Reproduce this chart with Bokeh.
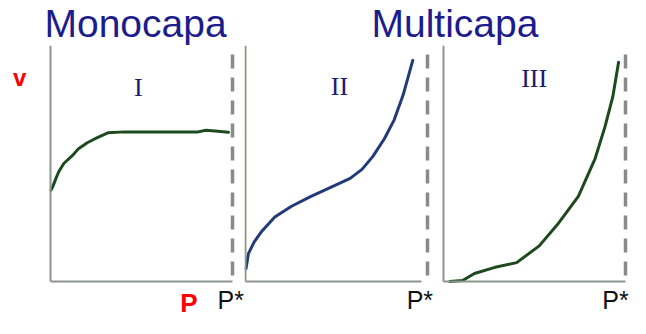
from bokeh.plotting import figure
from bokeh.models import Range1d, LinearAxis, FixedTicker, Label
from bokeh.layouts import column, row
from bokeh.embed import file_html
from bokeh.resources import INLINE

# ---------------- data (P/P* and relative adsorbed volume v) ----------------
p_rel_I = [0.003, 0.013, 0.030, 0.046, 0.073, 0.121, 0.154, 0.202, 0.245, 0.315,
           0.407, 0.623, 0.811, 0.854, 0.919, 0.978]
v_I = [0.387, 0.403, 0.437, 0.466, 0.500, 0.534, 0.563, 0.588, 0.605, 0.630,
       0.634, 0.634, 0.634, 0.641, 0.637, 0.632]

p_rel_II = [0.003, 0.016, 0.048, 0.091, 0.161, 0.253, 0.360, 0.468, 0.575, 0.640,
            0.699, 0.763, 0.817, 0.866, 0.919]
v_II = [0.055, 0.118, 0.168, 0.214, 0.273, 0.319, 0.361, 0.399, 0.437, 0.475,
        0.529, 0.605, 0.685, 0.790, 0.937]

p_rel_III = [0.035, 0.105, 0.170, 0.278, 0.402, 0.526, 0.633, 0.741, 0.833, 0.887,
             0.930, 0.962]
v_III = [0.000, 0.004, 0.034, 0.059, 0.080, 0.151, 0.248, 0.361, 0.521, 0.655,
         0.782, 0.929]

panel_names = ["I", "II", "III"]
group_titles = ["Monocapa", "Multicapa"]
y_label = "v"
x_label = "P"
pstar_label = "P*"
p_star = 1.0          # saturation pressure line (P/P* = 1)
dash_top = 0.962      # top of the dashed P* line
bottom_axis_end = [1.0, 0.968, 1.0]

# ---------------- style / layout ----------------
AXIS_COLOR = "#8b958b"
DASH_COLOR = "#8a8a8a"
GREEN = "#1d4a1d"
NAVY = "#223a78"
NUM_COLOR = "#1c1c70"
TITLE_COLOR = "#1c1c8c"
SANS = "Liberation Sans"
SERIF = "Liberation Serif"

PX_X = 182.0          # pixels per unit of P/P*
PX_Y = 236.0          # pixels per unit of v
TITLE_H = 45
FIG_H = 318 - TITLE_H
BOTTOM_PX = FIG_H - PX_Y


def style_axis(ax):
    ax.ticker = FixedTicker(ticks=[])
    ax.major_tick_line_color = None
    ax.minor_tick_line_color = None
    ax.major_tick_out = 0
    ax.major_tick_in = 0
    ax.major_label_standoff = 0
    ax.major_label_text_font_size = "0px"
    ax.axis_line_color = AXIS_COLOR
    ax.axis_line_width = 2
    return ax


def make_panel(width, left_px, xs, ys, color, x_end_axis, numeral, num_pos, pstar_x):
    f = figure(width=width, height=FIG_H,
               x_range=Range1d(-left_px / PX_X, (width - left_px) / PX_X),
               y_range=Range1d(-BOTTOM_PX / PX_Y, 1.0),
               x_axis_type=None, y_axis_type=None,
               output_backend="svg", toolbar_location=None, min_border=0)
    f.outline_line_color = None
    f.background_fill_color = None
    f.border_fill_color = None
    f.xgrid.visible = False
    f.ygrid.visible = False

    left = style_axis(LinearAxis(fixed_location=0, bounds=(0, 1)))
    below = style_axis(LinearAxis(fixed_location=0, bounds=(0, x_end_axis)))
    f.add_layout(left, "left")
    f.add_layout(below, "below")

    # dashed P* line
    f.line([p_star, p_star], [dash_top, 0], line_color=DASH_COLOR, line_width=3.5,
           line_dash="14 9")
    # isotherm
    f.line(xs, ys, line_color=color, line_width=3, line_join="round", line_cap="round")

    f.add_layout(Label(x=num_pos[0], y=num_pos[1], text=numeral, text_font=SERIF,
                       text_font_size="26px", text_color=NUM_COLOR,
                       text_align="center", text_baseline="middle"))
    f.add_layout(Label(x=pstar_x, y=-0.078, text=pstar_label, text_font=SANS,
                       text_font_size="25px", text_color="#111111",
                       text_align="center", text_baseline="middle"))
    return f


f1 = make_panel(244, 50, p_rel_I, v_I, GREEN, bottom_axis_end[0], panel_names[0],
                (0.482, 0.82), 0.99)
f2 = make_panel(193, 1, p_rel_II, v_II, NAVY, bottom_axis_end[1], panel_names[1],
                (0.516, 0.828), 0.958)
f3 = make_panel(193, 6, p_rel_III, v_III, GREEN, bottom_axis_end[2], panel_names[2],
                (0.498, 0.861), 0.945)

# axis letters on first panel
f1.add_layout(Label(x=-0.170, y=0.865, text=y_label, text_font=SANS, text_font_style="bold",
                    text_font_size="24px", text_color="#ff0000",
                    text_align="center", text_baseline="middle"))
f1.add_layout(Label(x=0.76, y=-0.093, text=x_label, text_font=SANS, text_font_style="bold",
                    text_font_size="26px", text_color="#ff0000",
                    text_align="center", text_baseline="middle"))

# title strip
t = figure(width=630, height=TITLE_H, x_range=Range1d(0, 630), y_range=Range1d(0, TITLE_H),
           x_axis_type=None, y_axis_type=None, output_backend="svg",
           toolbar_location=None, min_border=0)
t.outline_line_color = None
t.xgrid.visible = False
t.ygrid.visible = False
t.background_fill_color = None
t.border_fill_color = None
t.add_layout(Label(x=44, y=22.5, text=group_titles[0], text_font=SANS,
                   text_font_size="39px", text_color=TITLE_COLOR,
                   text_align="left", text_baseline="middle"))
t.add_layout(Label(x=371, y=22.0, text=group_titles[1], text_font=SANS,
                   text_font_size="39px", text_color=TITLE_COLOR,
                   text_align="left", text_baseline="middle"))

layout = column(t, row(f1, f2, f3, spacing=0), spacing=0)

open("out.html", "w").write(file_html(layout, INLINE))
